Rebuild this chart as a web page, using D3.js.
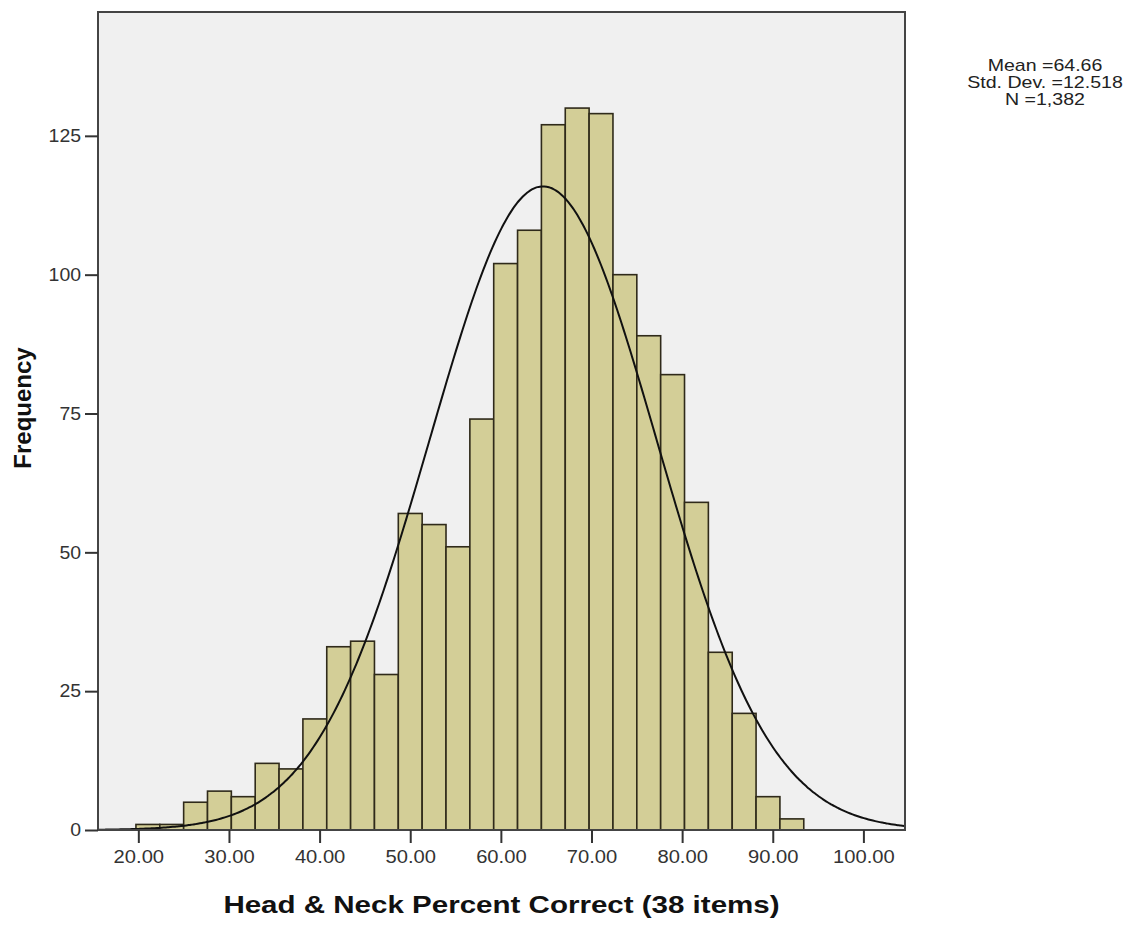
<!DOCTYPE html>
<html>
<head>
<meta charset="utf-8">
<script src="https://cdn.jsdelivr.net/npm/d3@7"></script>
<style>
  html, body { margin: 0; padding: 0; background: #ffffff; }
  svg { display: block; }
  text { font-family: "Liberation Sans", Arial, sans-serif; }
</style>
</head>
<body>
<svg id="chart" width="1144" height="926"></svg>
<script>
// ---- Data ----
// Bin centres are item scores k/38*100; bin edges at (k±0.5)/38*100
const binScores = [8, 9, 10, 11, 12, 13, 14, 15, 16, 17, 18, 19, 20, 21, 22, 23, 24, 25, 26, 27, 28, 29, 30, 31, 32, 33, 34, 35];
const binCounts = [1, 1, 5, 7, 6, 12, 11, 20, 33, 34, 28, 57, 55, 51, 74, 102, 108, 127, 130, 129, 100, 89, 82, 59, 32, 21, 6, 2];
const nItems = 38;
const xTicks = [20, 30, 40, 50, 60, 70, 80, 90, 100];
const yTicks = [0, 25, 50, 75, 100, 125];
const statsLines = ["Mean =64.66", "Std. Dev. =12.518", "N =1,382"];
const meanVal = 64.66, sdVal = 12.518, nVal = 1382;
const xTitle = "Head & Neck Percent Correct (38 items)";
const yTitle = "Frequency";

// ---- Layout ----
const plot = { left: 98, top: 12, right: 905, bottom: 830 };
const svg = d3.select("#chart");

const x = d3.scaleLinear().domain([15.55, 104.59]).range([plot.left, plot.right]);
const y = d3.scaleLinear().domain([0, 147.3]).range([plot.bottom, plot.top]);

// horizontally widen text (reference text is wider than Liberation Sans metrics)
function widen(sel, f) {
  sel.each(function () {
    const w = this.getComputedTextLength();
    d3.select(this).attr("textLength", w * f).attr("lengthAdjust", "spacingAndGlyphs");
  });
}

// plot background
svg.append("rect")
  .attr("x", plot.left).attr("y", plot.top)
  .attr("width", plot.right - plot.left).attr("height", plot.bottom - plot.top)
  .attr("fill", "#f0f0f0");

// bars
const binW = 100 / nItems;
const bins = binScores.map((k, i) => ({ x0: (k - 0.5) * binW, x1: (k + 0.5) * binW, n: binCounts[i] }));
svg.append("g").selectAll("rect").data(bins).join("rect")
  .attr("x", d => x(d.x0))
  .attr("y", d => y(d.n))
  .attr("width", d => x(d.x1) - x(d.x0))
  .attr("height", d => y(0) - y(d.n))
  .attr("fill", "#d3ce97")
  .attr("stroke", "#2f2a1a")
  .attr("stroke-width", 1.6);

// normal curve
const xs = d3.range(15.55, 104.6, 0.25);
const pdf = v => nVal * binW * Math.exp(-0.5 * Math.pow((v - meanVal) / sdVal, 2)) / (sdVal * Math.sqrt(2 * Math.PI));
svg.append("clipPath").attr("id", "pc").append("rect")
  .attr("x", plot.left).attr("y", plot.top)
  .attr("width", plot.right - plot.left).attr("height", plot.bottom - plot.top);
svg.append("path")
  .datum(xs)
  .attr("clip-path", "url(#pc)")
  .attr("fill", "none")
  .attr("stroke", "#111")
  .attr("stroke-width", 2)
  .attr("d", d3.line().x(d => x(d)).y(d => y(pdf(d))).curve(d3.curveBasis));

// frame
svg.append("rect")
  .attr("x", plot.left).attr("y", plot.top)
  .attr("width", plot.right - plot.left).attr("height", plot.bottom - plot.top)
  .attr("fill", "none").attr("stroke", "#444").attr("stroke-width", 2);

// axes
const xAxis = d3.axisBottom(x).tickValues(xTicks).tickFormat(d3.format(".2f")).tickSize(13).tickPadding(7);
const gx = svg.append("g").attr("transform", `translate(0,${plot.bottom})`).call(xAxis);
const yAxis = d3.axisLeft(y).tickValues(yTicks).tickSize(13).tickPadding(4);
const gy = svg.append("g").attr("transform", `translate(${plot.left},0)`).call(yAxis);
[gx, gy].forEach(g => {
  g.select(".domain").remove();
  g.selectAll(".tick line").attr("stroke", "#333").attr("stroke-width", 2);
  g.selectAll(".tick text").attr("fill", "#333").style("font-size", "18px").style("font-family", "'Liberation Sans', Arial, sans-serif");
});
widen(gx.selectAll(".tick text"), 1.12);
widen(gy.selectAll(".tick text"), 1.08);

// axis titles
const xt = svg.append("text")
  .attr("x", (plot.left + plot.right) / 2).attr("y", 913)
  .attr("text-anchor", "middle")
  .attr("font-weight", "bold").attr("font-size", 24).attr("fill", "#111")
  .text(xTitle);
widen(xt, 1.23);
svg.append("text")
  .attr("transform", `translate(31,408) rotate(-90)`)
  .attr("text-anchor", "middle")
  .attr("font-weight", "bold").attr("font-size", 24).attr("fill", "#111")
  .text(yTitle);

// stats
const st = svg.append("g").selectAll("text").data(statsLines).join("text")
  .attr("x", 1045).attr("y", (d, i) => 71 + i * 17)
  .attr("text-anchor", "middle")
  .attr("font-size", 17).attr("fill", "#222")
  .text(d => d);
widen(st, 1.15);
</script>
</body>
</html>
